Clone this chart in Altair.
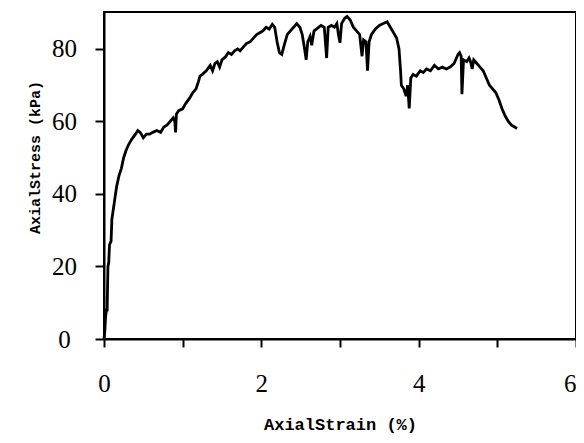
import altair as alt
import pandas as pd

strain = [0.00, 0.01, 0.02, 0.03, 0.04, 0.05, 0.06, 0.07, 0.09, 0.10, 0.12, 0.14, 0.16, 0.19, 0.22,
          0.25, 0.28, 0.31, 0.35, 0.40, 0.43, 0.46, 0.50, 0.54, 0.58, 0.62, 0.67, 0.72, 0.76, 0.80,
          0.84, 0.88, 0.90, 0.91, 0.92, 0.95, 1.00, 1.04, 1.09, 1.13, 1.17, 1.20, 1.22, 1.25, 1.30,
          1.35, 1.38, 1.41, 1.44, 1.47, 1.50, 1.55, 1.58, 1.62, 1.66, 1.70, 1.73, 1.77, 1.81, 1.86,
          1.90, 1.94, 1.98, 2.02, 2.06, 2.10, 2.14, 2.17, 2.20, 2.23, 2.26, 2.29, 2.33, 2.37, 2.41,
          2.45, 2.49, 2.52, 2.55, 2.57, 2.59, 2.62, 2.64, 2.67, 2.70, 2.73, 2.76, 2.80, 2.83, 2.85,
          2.89, 2.93, 2.96, 2.98, 3.00, 3.02, 3.06, 3.09, 3.13, 3.17, 3.21, 3.25, 3.28, 3.30, 3.33,
          3.35, 3.37, 3.40, 3.45, 3.50, 3.55, 3.60, 3.64, 3.68, 3.72, 3.75, 3.77, 3.78, 3.81, 3.84,
          3.86, 3.88, 3.90, 3.93, 3.97, 4.02, 4.06, 4.10, 4.15, 4.20, 4.25, 4.30, 4.35, 4.40, 4.45,
          4.50, 4.52, 4.54, 4.55, 4.57, 4.61, 4.64, 4.66, 4.68, 4.70, 4.74, 4.78, 4.82, 4.86, 4.90,
          4.94, 4.98, 5.02, 5.06, 5.10, 5.14, 5.18, 5.22, 5.25]
stress = [0, 2, 6, 8, 8, 20, 21, 26, 27, 33, 36, 39, 42, 45, 47,
          50, 52, 53.5, 55, 56.5, 57.5, 57, 55.5, 56.5, 56.5, 57, 57.5, 57, 58.5, 59,
          60, 61, 60, 57, 62, 63, 63.5, 65, 66.5, 68, 69, 71, 72.5, 73, 74,
          75.5, 74, 76, 76.5, 75, 77, 78, 79, 78.5, 79.5, 80, 79.5, 80.5, 81.5, 82,
          83, 84, 84.5, 85, 86, 85.5, 86.8, 86, 82, 79, 78.5, 81, 84, 85, 86,
          87, 86, 84, 80, 77, 82, 83.5, 81, 85, 85.5, 86, 86.5, 86, 77.5, 86,
          86.5, 86, 87, 84, 81.7, 87, 88.5, 89, 88, 86, 85, 84, 78, 82.5, 82,
          74, 82, 84, 85.5, 86.5, 87, 87.5, 86, 84.5, 83, 80, 74, 70, 69, 67,
          70, 63.6, 72, 73, 72.5, 74, 73.5, 74.5, 74, 75.5, 74.5, 75, 74.5, 75, 76,
          78.5, 79, 78, 67.5, 77, 76.5, 77.5, 76.5, 74.5, 77, 76, 75, 74, 72, 70,
          69, 68, 66, 63.5, 61.5, 60, 59, 58.5, 58]

x_ticks = [0, 0.5, 1, 1.5, 2, 2.5, 3, 3.5, 4, 4.5, 5, 5.5, 6]
y_ticks = [0, 20, 40, 60, 80]

df = pd.DataFrame({"strain": strain, "stress": stress, "order": list(range(len(strain)))})

chart = alt.Chart(df).mark_line(color="black", strokeWidth=2.8, strokeJoin="miter").encode(
    x=alt.X("strain:Q",
            scale=alt.Scale(domain=[0, 6], nice=False, zero=False),
            axis=alt.Axis(values=x_ticks, title="AxialStrain (%)",
                          labelExpr="datum.value % 2 === 0 ? datum.label : ''",
                          format="d", grid=False, domainColor="black", domainWidth=2,
                          ticks=True, tickColor="black", tickWidth=2, tickSize=8,
                          labelFont="Liberation Serif", labelFontSize=25, labelColor="black",
                          labelAlign={"condition": {"test": "datum.value >= 6", "value": "right"},
                                      "value": "center"},
                          labelBaseline="middle", labelPadding=36, labelFlush=False,
                          titleFont="Liberation Mono", titleFontWeight="bold", titleFontSize=17,
                          titleColor="black", titleBaseline="middle", titleY=85)),
    y=alt.Y("stress:Q",
            scale=alt.Scale(domain=[0, 90.2], nice=False),
            axis=alt.Axis(values=y_ticks, title="AxialStress (kPa)", grid=False,
                          domainColor="black", domainWidth=2, ticks=True, tickColor="black",
                          tickWidth=2, tickSize=9, labelFont="Liberation Serif", labelFontSize=25,
                          labelColor="black", labelAlign="center", labelPadding=31,
                          labelFlush=False,
                          titleFont="Liberation Mono", titleFontWeight="bold", titleFontSize=15,
                          titleColor="black", titleBaseline="middle", titleX=-70, titleY=145)),
    order="order:Q",
).properties(
    width=472, height=327,
    background="white",
    autosize=alt.AutoSizeParams(type="none"),
    padding={"left": 96, "top": 4, "right": 0, "bottom": 96},
).configure_view(stroke="black", strokeWidth=2)

chart.save("out.html", embed_options={"renderer": "svg", "actions": False})
